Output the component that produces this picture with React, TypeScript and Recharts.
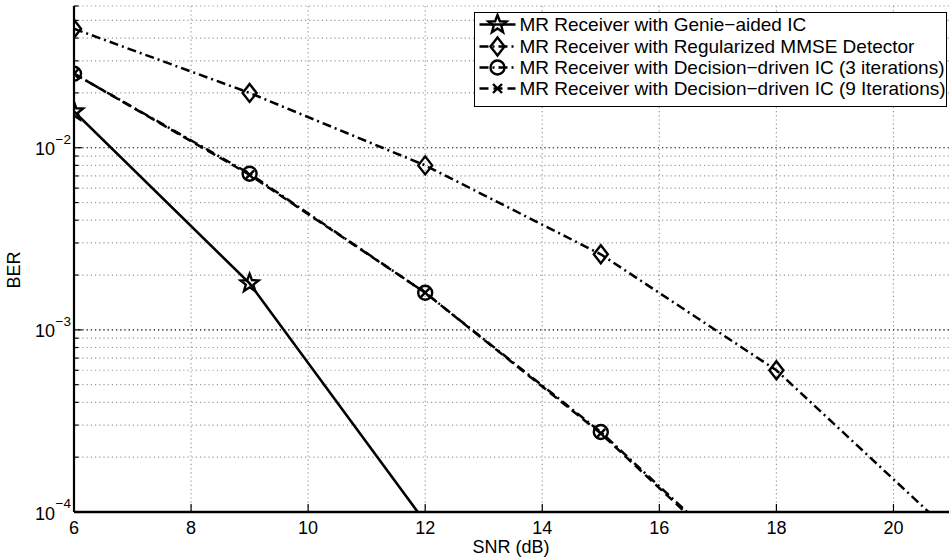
import React from "react";
import {
  LineChart,
  Line,
  XAxis,
  YAxis,
  CartesianGrid,
  ReferenceLine,
  Legend,
} from "recharts";

// SNR points (dB) where the curves were simulated
const snr = [6, 9, 12, 15, 18, 21];

// BER per receiver (null = off the chart)
const genieIC = [0.0158, 0.0018, 0.000088, null, null, null];
const mmse = [0.045, 0.02, 0.008, 0.0026, 0.0006, 0.000076];
const dd3 = [0.0255, 0.0072, 0.0016, 0.000275, 0.000035, null];
const dd9 = [0.0255, 0.0071, 0.0016, 0.00027, 0.000034, null];

const xTicks = [6, 8, 10, 12, 14, 16, 18, 20];
const yTicks = [
  0.0001, 0.0002, 0.0003, 0.0004, 0.0005, 0.0006, 0.0007, 0.0008, 0.0009,
  0.001, 0.002, 0.003, 0.004, 0.005, 0.006, 0.007, 0.008, 0.009,
  0.01, 0.02, 0.03, 0.04, 0.05, 0.06,
];
const yMajor = [0.0001, 0.001, 0.01];

const X_DOMAIN: [number, number] = [6, 21];
const Y_DOMAIN: [number, number] = [0.0001, 0.06];

const FONT = '"Liberation Sans", Arial, Helvetica, sans-serif';

type MarkerKind = "star" | "diamond" | "circle" | "x";

const series: {
  key: string;
  name: string;
  values: (number | null)[];
  dash?: string;
  marker: MarkerKind;
  width: number;
}[] = [
  { key: "genie", name: "MR Receiver with Genie\u2212aided IC", values: genieIC, marker: "star", width: 2.6 },
  { key: "mmse", name: "MR Receiver with Regularized MMSE Detector", values: mmse, dash: "9 4 2 4", marker: "diamond", width: 2.5 },
  { key: "dd3", name: "MR Receiver with Decision\u2212driven IC (3 iterations)", values: dd3, dash: "9 4 2 4", marker: "circle", width: 2.5 },
  { key: "dd9", name: "MR Receiver with Decision\u2212driven IC (9 Iterations)", values: dd9, dash: "9 5", marker: "x", width: 2.5 },
];

const data = snr.map((x, i) => {
  const row: Record<string, number | null> = { snr: x };
  series.forEach((s) => (row[s.key] = s.values[i]));
  return row;
});

function isMajor(v: number) {
  return yMajor.some((m) => Math.abs(m - v) / m < 1e-6);
}

function Marker({ kind, cx, cy }: { kind: MarkerKind; cx: number; cy: number }) {
  const common = { fill: "none", stroke: "#000", strokeWidth: 2.4 };
  if (kind === "star") {
    const pts: string[] = [];
    for (let i = 0; i < 10; i++) {
      const r = i % 2 === 0 ? 9.5 : 4;
      const a = -Math.PI / 2 + (i * Math.PI) / 5;
      pts.push(`${cx + r * Math.cos(a)},${cy + r * Math.sin(a)}`);
    }
    return <polygon points={pts.join(" ")} {...common} strokeWidth={2.4} />;
  }
  if (kind === "diamond") {
    return (
      <polygon
        points={`${cx},${cy - 9} ${cx + 7},${cy} ${cx},${cy + 9} ${cx - 7},${cy}`}
        {...common}
      />
    );
  }
  if (kind === "circle") {
    return <circle cx={cx} cy={cy} r={7} {...common} />;
  }
  return (
    <path
      d={`M${cx - 4.5},${cy - 4.5}L${cx + 4.5},${cy + 4.5}M${cx - 4.5},${cy + 4.5}L${cx + 4.5},${cy - 4.5}`}
      {...common}
    />
  );
}

function makeDot(kind: MarkerKind) {
  return (props: any) => {
    const { cx, cy, value, index } = props;
    if (value == null || cx == null || cy == null || value < Y_DOMAIN[0]) {
      return <g key={`d-${kind}-${index}`} />;
    }
    return (
      <g key={`d-${kind}-${index}`}>
        <Marker kind={kind} cx={cx} cy={cy} />
      </g>
    );
  };
}

const BottomTick = (props: any) => {
  const { x, y, payload } = props;
  return (
    <g>
      <line x1={x} x2={x} y1={y} y2={y - 8} stroke="#000" strokeWidth={1.2} />
      <text x={x} y={y + 22} textAnchor="middle" fontSize={18} fill="#000">
        {payload.value}
      </text>
    </g>
  );
};

const TopTick = (props: any) => {
  const { x, y } = props;
  return <line x1={x} x2={x} y1={y} y2={y + 8} stroke="#000" strokeWidth={1.2} />;
};

const LeftTick = (props: any) => {
  const { x, y, payload } = props;
  const major = isMajor(payload.value);
  const exp = Math.round(Math.log10(payload.value));
  return (
    <g>
      <line x1={x} x2={x + (major ? 8 : 4.5)} y1={y} y2={y} stroke="#000" strokeWidth={1.2} />
      {major && (
        <>
          <text x={x - 19} y={y + 7.5} textAnchor="end" fontSize={18} fill="#000">
            10
          </text>
          <text x={x - 18.5} y={y - 4} fontSize={13.5} fill="#000">
            {`\u2212${-exp}`}
          </text>
        </>
      )}
    </g>
  );
};

const RightTick = (props: any) => {
  const { x, y, payload } = props;
  const major = isMajor(payload.value);
  return <line x1={x} x2={x - (major ? 8 : 4.5)} y1={y} y2={y} stroke="#000" strokeWidth={1.2} />;
};

function LegendBox() {
  const rowY = [11.5, 33.5, 54.5, 75.5];
  return (
    <div
      style={{
        width: 473,
        height: 95,
        boxSizing: "border-box",
        border: "1.5px solid #000",
        background: "#fff",
      }}
    >
      <svg width={470} height={92} style={{ display: "block" }}>
        {series.map((s, i) => (
          <g key={s.key}>
            <line
              x1={4.5}
              x2={40.5}
              y1={rowY[i]}
              y2={rowY[i]}
              stroke="#000"
              strokeWidth={s.width}
              strokeDasharray={s.dash}
            />
            <Marker kind={s.marker} cx={22.5} cy={rowY[i]} />
            <text x={44.5} y={rowY[i] + 6.5} fontSize={19} fill="#000">
              {s.name}
            </text>
          </g>
        ))}
      </svg>
    </div>
  );
}

export default function App() {
  return (
    <div
      style={{
        position: "absolute",
        left: 0,
        top: 0,
        width: 949,
        height: 559,
        overflow: "hidden",
        background: "#fff",
        fontFamily: FONT,
      }}
    >
      <LineChart
        width={955}
        height={559}
        data={data}
        margin={{ top: 6, right: 3, bottom: 0, left: 0 }}
      >
        <CartesianGrid
          xAxisId="b"
          yAxisId="l"
          stroke="#999"
          strokeDasharray="1.2 3"
          strokeWidth={1.2}
        />
        {yMajor.slice(1).map((v) => (
          <ReferenceLine
            key={v}
            xAxisId="b"
            yAxisId="l"
            y={v}
            stroke="#222"
            strokeDasharray="1.2 3"
            strokeWidth={1.2}
          />
        ))}
        <XAxis
          xAxisId="b"
          dataKey="snr"
          type="number"
          domain={X_DOMAIN}
          allowDataOverflow
          ticks={xTicks}
          interval={0}
          height={47}
          tickSize={0}
          tickMargin={0}
          tickLine={false}
          axisLine={{ stroke: "#000", strokeWidth: 2.5 }}
          tick={BottomTick}
          label={{
            content: (p: any) => {
              const vb = p.viewBox || { x: 74, y: 512, width: 878 };
              return (
                <text x={vb.x + vb.width / 2 - 2} y={vb.y + 41} textAnchor="middle" fontSize={18} fill="#000">
                  SNR (dB)
                </text>
              );
            },
          }}
        />
        <XAxis
          xAxisId="t"
          orientation="top"
          type="number"
          domain={X_DOMAIN}
          allowDataOverflow
          ticks={xTicks}
          interval={0}
          height={0}
          tickSize={0}
          tickMargin={0}
          tickLine={false}
          axisLine={{ stroke: "#000", strokeWidth: 2 }}
          tick={TopTick}
        />
        <YAxis
          yAxisId="l"
          scale="log"
          type="number"
          domain={Y_DOMAIN}
          allowDataOverflow
          ticks={yTicks}
          interval={0}
          width={74}
          tickSize={0}
          tickMargin={0}
          tickLine={false}
          axisLine={{ stroke: "#000", strokeWidth: 2.2 }}
          tick={LeftTick}
          label={{
            content: () => (
              <text
                x={20}
                y={270}
                transform="rotate(-90 20 270)"
                textAnchor="middle"
                fontSize={18}
                fill="#000"
              >
                BER
              </text>
            ),
          }}
        />
        <YAxis
          yAxisId="r"
          orientation="right"
          scale="log"
          type="number"
          domain={Y_DOMAIN}
          allowDataOverflow
          ticks={yTicks}
          interval={0}
          width={0}
          tickSize={0}
          tickMargin={0}
          tickLine={false}
          axisLine={{ stroke: "#000", strokeWidth: 2 }}
          tick={RightTick}
        />
        {series.map((s) => (
          <Line
            key={s.key}
            xAxisId="b"
            yAxisId="l"
            type="linear"
            dataKey={s.key}
            name={s.name}
            stroke="#000"
            strokeWidth={s.width}
            strokeDasharray={s.dash}
            dot={makeDot(s.marker)}
            activeDot={false}
            isAnimationActive={false}
          />
        ))}
        <Legend
          layout="vertical"
          align="center"
          verticalAlign="middle"
          wrapperStyle={{ left: 474, top: 12, width: 473, height: 95 }}
          content={() => <LegendBox />}
        />
      </LineChart>
    </div>
  );
}
